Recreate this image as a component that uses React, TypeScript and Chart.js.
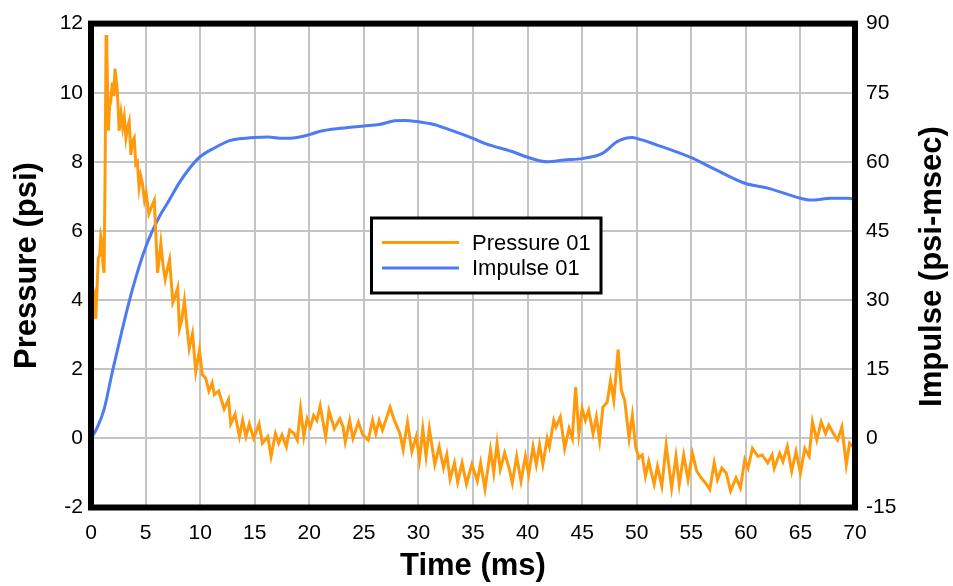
import React, { useEffect, useRef } from "react";
import { Chart, registerables } from "chart.js";

Chart.register(...registerables);

const pressureTime: number[] = [
  0.0, 0.15, 0.3, 0.43, 0.55, 0.67, 0.8, 0.9, 1.0, 1.1, 1.2, 1.3, 1.38, 1.45, 1.6, 1.7, 1.8, 1.96, 2.1, 2.2,
  2.4, 2.5, 2.58, 2.75, 2.9, 3.05, 3.2, 3.35, 3.5, 3.65, 3.8, 3.96, 4.1, 4.25, 4.4, 4.55, 4.7, 4.9, 5.05, 5.3,
  5.55, 5.8, 6.1, 6.25, 6.4, 6.6, 6.8, 7.0, 7.2, 7.5, 7.7, 7.95, 8.1, 8.3, 8.56, 8.8, 9.0, 9.3, 9.6, 9.94,
  10.2, 10.5, 10.8, 11.1, 11.3, 11.7, 12.2, 12.6, 12.8, 13.2, 13.6, 13.9, 14.2, 14.5, 14.9, 15.4, 15.7, 16.2, 16.5, 16.9,
  17.2, 17.5, 17.9, 18.2, 18.6, 18.9, 19.2, 19.5, 19.8, 20.1, 20.4, 20.7, 21.0, 21.5, 21.8, 22.3, 22.8, 23.1, 23.3, 23.7,
  24.0, 24.5, 24.9, 25.4, 25.8, 26.1, 26.4, 26.7, 27.0, 27.4, 27.8, 28.3, 28.6, 29.0, 29.4, 29.8, 30.1, 30.4, 30.7, 31.0,
  31.5, 31.9, 32.3, 32.6, 32.9, 33.3, 33.6, 34.0, 34.4, 34.9, 35.4, 35.7, 36.1, 36.6, 36.9, 37.2, 37.5, 37.9, 38.3, 38.6,
  39.0, 39.4, 39.8, 40.1, 40.5, 40.8, 41.1, 41.4, 41.8, 42.0, 42.4, 42.6, 43.0, 43.4, 43.8, 44.1, 44.4, 44.7, 45.0, 45.3,
  45.6, 46.0, 46.3, 46.6, 46.9, 47.3, 47.6, 47.9, 48.3, 48.6, 48.9, 49.3, 49.6, 49.9, 50.2, 50.5, 50.8, 51.1, 51.6, 51.9,
  52.3, 52.7, 53.2, 53.6, 53.9, 54.3, 54.7, 55.1, 55.5, 55.9, 56.3, 56.7, 57.1, 57.4, 57.8, 58.2, 58.6, 59.1, 59.5, 59.9,
  60.2, 60.6, 61.1, 61.5, 62.0, 62.4, 62.6, 63.1, 63.4, 63.8, 64.2, 64.6, 65.0, 65.4, 65.8, 66.1, 66.5, 66.9, 67.3, 67.6,
  68.1, 68.4, 68.8, 69.2, 69.5, 70.0,
];

const pressureValue: number[] = [
  4.0, 3.9, 4.1, 3.46, 4.3, 5.22, 5.3, 5.85, 5.7, 5.0, 4.79, 8.0, 11.67, 11.2, 8.9, 9.6, 9.74, 10.3, 9.9, 10.7,
  10.1, 9.5, 8.9, 9.4, 9.0, 9.3, 8.7, 9.0, 9.17, 8.2, 8.6, 8.7, 7.93, 8.0, 7.27, 7.6, 7.4, 6.89, 7.1, 6.5,
  6.7, 6.89, 4.79, 5.2, 5.65, 5.0, 4.6, 4.9, 5.17, 3.93, 4.1, 4.36, 3.17, 3.4, 3.99, 3.2, 2.6, 3.03, 1.93, 2.56,
  1.84, 1.75, 1.37, 1.6, 1.27, 1.37, 0.85, 1.13, 0.42, 0.7, 0.05, 0.52, 0.05, 0.42, 0.0, 0.42, -0.14, 0.05, -0.52, 0.14,
  -0.14, 0.1, -0.24, 0.24, 0.14, -0.05, 0.85, 0.05, 0.57, 0.33, 0.66, 0.52, 0.94, 0.05, 0.8, 0.28, 0.57, 0.33, -0.1, 0.52,
  0.0, 0.47, 0.1, -0.05, 0.52, 0.14, 0.52, 0.24, 0.52, 0.9, 0.52, 0.14, -0.33, 0.47, -0.38, 0.05, -0.61, 0.28, -0.52, 0.28,
  -0.75, -0.24, -0.85, -0.47, -1.18, -0.71, -1.27, -0.71, -1.32, -0.75, -1.23, -0.71, -1.46, -0.33, -0.99, -0.14, -0.9, -0.42, -0.85, -1.29,
  -0.52, -1.24, -0.52, -1.05, -0.24, -0.76, -0.19, -0.76, 0.0, -0.24, 0.52, 0.33, 0.62, -0.29, 0.29, 0.0, 1.48, 0.14, 0.86, 0.52,
  0.81, 0.14, 0.62, -0.05, 0.9, 1.05, 1.67, 1.1, 2.57, 1.38, 1.1, 0.0, 0.67, -0.24, -0.57, -0.48, -1.1, -0.67, -1.33, -0.81,
  -1.38, -0.19, -1.43, -0.52, -1.33, -0.48, -1.19, -0.43, -0.95, -1.14, -1.29, -1.48, -0.71, -1.19, -0.86, -1.0, -1.52, -1.14, -1.43, -0.62,
  -0.86, -0.29, -0.52, -0.48, -0.71, -0.48, -0.86, -0.43, -0.67, -0.24, -0.95, -0.38, -1.0, -0.29, -0.52, 0.48, -0.05, 0.48, 0.14, 0.38,
  0.1, -0.05, 0.33, -0.76, -0.14, -0.3,
];

const impulseTime: number[] = [
  0, 0.5, 1.2, 1.96, 2.88, 3.8, 5.04, 6.26, 7.0, 8.1, 9.0, 9.94, 11.3, 12.7, 13.6, 15.0, 16.2, 17.6, 18.9, 20,
  21.1, 22.9, 25, 26.4, 27.8, 28.7, 30, 31.4, 32.7, 35, 36.2, 38.5, 40, 41.8, 43.4, 45, 46.9, 48.2, 49.6, 50,
  51.8, 55, 56.3, 58, 60, 62, 65, 66, 67.8, 69.4, 70,
];

const impulseValue: number[] = [
  0, 2, 6.3, 14.5, 23.8, 32.4, 41.7, 48.1, 51, 55.5, 58.5, 61, 63, 64.6, 65, 65.3, 65.4, 65.1, 65.3, 65.9,
  66.7, 67.3, 67.8, 68.1, 68.9, 69, 68.7, 68.1, 67.1, 65.1, 63.9, 62.3, 61, 60, 60.4, 60.7, 61.9, 64.4, 65.3, 65.1,
  63.7, 60.9, 59.4, 57.4, 55.3, 54.3, 52.1, 51.7, 52.1, 52.1, 51.8,
];

const seriesLabels = ["Pressure 01", "Impulse 01"];
const seriesColors = ["#FF9A0C", "#4C7BF4"];
const xTitle = "Time (ms)";
const yLeftTitle = "Pressure (psi)";
const yRightTitle = "Impulse (psi-msec)";

const TICK_FONT = "'Liberation Sans', Arial, sans-serif";
const TITLE_FONT = "'Liberation Sans', Arial, sans-serif";

const frameAndLegend = {
  id: "frameAndLegend",
  afterDatasetsDraw(chart: any) {
    const { ctx, chartArea } = chart;
    ctx.save();
    ctx.strokeStyle = "#000";
    ctx.lineWidth = 6;
    ctx.strokeRect(chartArea.left, chartArea.top, chartArea.right - chartArea.left, chartArea.bottom - chartArea.top);
    ctx.restore();
  },
  afterDraw(chart: any) {
    const { ctx } = chart;
    const bx = 371.5, by = 218, bw = 229.5, bh = 75;
    ctx.save();
    ctx.fillStyle = "#fff";
    ctx.fillRect(bx, by, bw, bh);
    ctx.strokeStyle = "#000";
    ctx.lineWidth = 3;
    ctx.strokeRect(bx, by, bw, bh);
    const rows = [242.5, 268];
    chart.data.datasets.forEach((ds: any, i: number) => {
      ctx.strokeStyle = ds.borderColor;
      ctx.lineWidth = 3;
      ctx.beginPath();
      ctx.moveTo(382, rows[i]);
      ctx.lineTo(459, rows[i]);
      ctx.stroke();
      ctx.fillStyle = "#000";
      ctx.font = `22px ${TITLE_FONT}`;
      ctx.textBaseline = "middle";
      ctx.textAlign = "left";
      ctx.fillText(ds.label, 472, rows[i] + 1);
    });
    // right axis title, reading bottom-to-top
    const y1 = chart.scales.y1;
    ctx.translate(932.5, (y1.top + y1.bottom) / 2 + 1);
    ctx.rotate(-Math.PI / 2);
    ctx.font = `bold 31px ${TITLE_FONT}`;
    ctx.textAlign = "center";
    ctx.textBaseline = "middle";
    ctx.fillStyle = "#000";
    ctx.fillText(yRightTitle, 0, 0);
    ctx.restore();
  },
};

export default function App() {
  const ref = useRef<HTMLCanvasElement | null>(null);
  useEffect(() => {
    document.body.style.margin = "0";
    if (!ref.current) return;
    const chart = new Chart(ref.current, {
      type: "line",
      data: {
        datasets: [
          {
            label: seriesLabels[0],
            data: pressureTime.map((t, i) => ({ x: t, y: pressureValue[i] })),
            borderColor: seriesColors[0],
            borderWidth: 3,
            pointRadius: 0,
            tension: 0,
            yAxisID: "y",
          },
          {
            label: seriesLabels[1],
            data: impulseTime.map((t, i) => ({ x: t, y: impulseValue[i] })),
            borderColor: seriesColors[1],
            borderWidth: 3,
            pointRadius: 0,
            cubicInterpolationMode: "monotone",
            yAxisID: "y1",
          },
        ],
      },
      options: {
        responsive: false,
        animation: false,
        layout: { padding: { top: 17.5, left: 0, right: 0, bottom: 0 } },
        plugins: { legend: { display: false }, tooltip: { enabled: false } },
        scales: {
          x: {
            type: "linear",
            min: 0,
            max: 70,
            afterFit: (s: any) => { s.height = 78.5; },
            ticks: { stepSize: 5, padding: 13, color: "#000", font: { family: TICK_FONT, size: 21 } },
            grid: { color: "#C4C4C4", lineWidth: 2, drawTicks: false },
            border: { display: false },
            title: {
              display: true,
              text: xTitle,
              color: "#000",
              font: { family: TITLE_FONT, size: 31, weight: "bold" },
              padding: { top: 0, bottom: 1 },
            },
          },
          y: {
            position: "left",
            min: -2,
            max: 12,
            afterFit: (s: any) => { s.width = 91; },
            ticks: { stepSize: 2, padding: 8, color: "#000", font: { family: TICK_FONT, size: 21 } },
            grid: { color: "#C4C4C4", lineWidth: 2, drawTicks: false },
            border: { display: false },
            title: {
              display: true,
              text: yLeftTitle,
              color: "#000",
              font: { family: TITLE_FONT, size: 31, weight: "bold" },
              padding: { top: 9, bottom: 0 },
            },
          },
          y1: {
            position: "right",
            min: -15,
            max: 90,
            afterFit: (s: any) => { s.width = 98; },
            ticks: { stepSize: 15, padding: 11, color: "#000", font: { family: TICK_FONT, size: 21 } },
            grid: { display: false, drawTicks: false },
            border: { display: false },
            title: { display: false },
          },
        },
      },
      plugins: [frameAndLegend],
    } as any);
    return () => chart.destroy();
  }, []);
  return (
    <div style={{ width: 953, height: 586, background: "#fff" }}>
      <canvas ref={ref} width={953} height={586} style={{ width: 953, height: 586, display: "block" }} />
    </div>
  );
}
